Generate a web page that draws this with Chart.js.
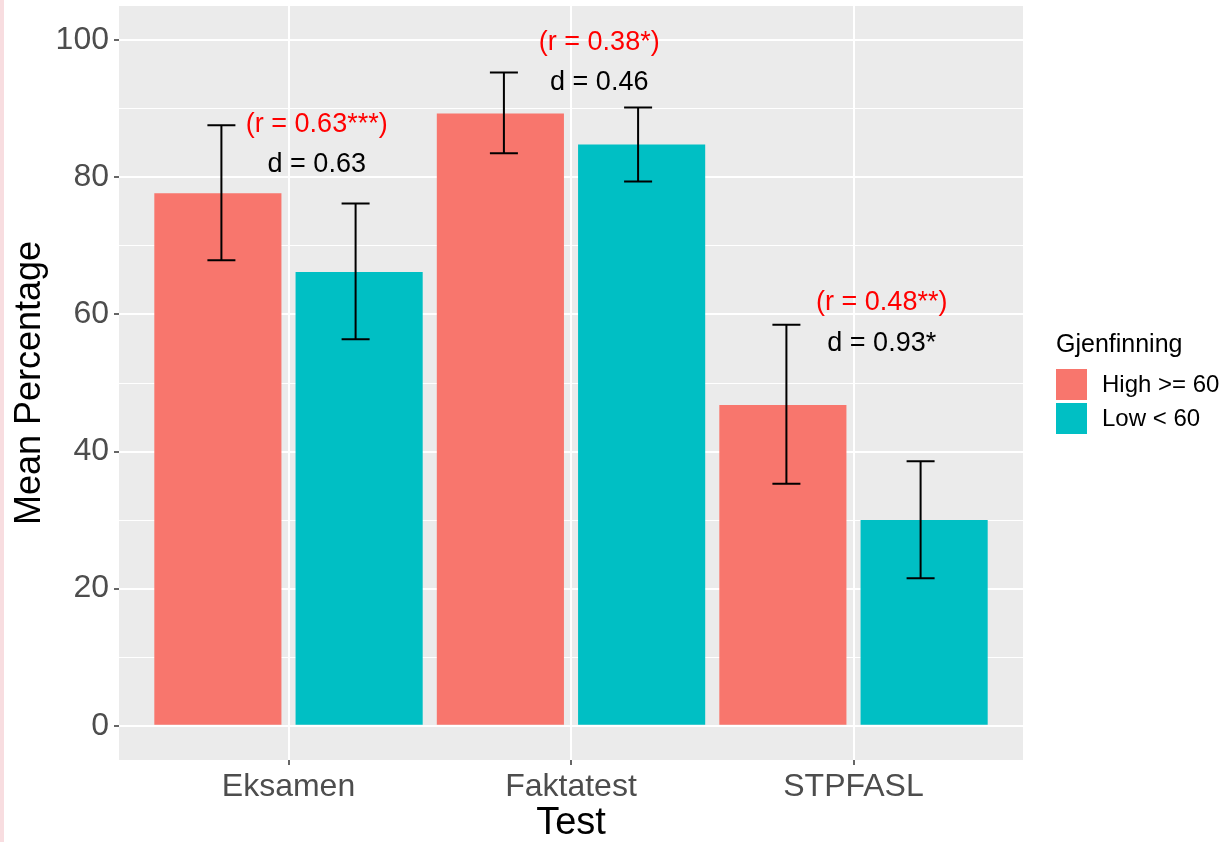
<!DOCTYPE html>
<html>
<head>
<meta charset="utf-8">
<script src="https://cdn.jsdelivr.net/npm/chart.js@4/dist/chart.umd.min.js"></script>
<style>
    html, body { margin: 0; padding: 0; background: #fff; }
    #wrap { position: relative; width: 1230px; height: 842px; }
    #stripe { position: absolute; left: 0; top: 0; width: 4px; height: 842px; background: #f8dde0; }
</style>
</head>
<body>
<div id="wrap">
    <canvas id="chart"></canvas>
    <div id="stripe"></div>
</div>
<script>
// categories and series
const categories = ['Eksamen', 'Faktatest', 'STPFASL'];
const groups = ['High >= 60', 'Low < 60'];
const highMean = [77.7, 89.3, 46.8];
const lowMean = [66.2, 84.8, 30.0];
const highLower = [67.9, 83.5, 35.3];
const highUpper = [87.6, 95.3, 58.5];
const lowLower = [56.4, 79.4, 21.5];
const lowUpper = [76.2, 90.2, 38.6];

// annotation texts and their heights (data units)
const rLabels = ['(r = 0.63***)', '(r = 0.38*)', '(r = 0.48**)'];
const rLabelY = [87.7, 99.6, 61.7];
const dLabels = ['d = 0.63', 'd = 0.46', 'd = 0.93*'];
const dLabelY = [81.8, 93.8, 55.8];

// axis ticks
const yMajorTicks = [0, 20, 40, 60, 80, 100];
const yMinorTicks = [10, 30, 50, 70, 90];

const FONT = '"Liberation Sans", Arial, Helvetica, sans-serif';
const colors = ['#F8766D', '#00BFC4'];
const DODGE = 0.95;       // error bars dodge width
const LABEL_SHIFT = 0.1;  // annotations shift to the right of category

// 그래프 배경 / 오차막대 / 주석 / 범례
const ggPlugin = {
    id: 'ggExtras',
    beforeDraw(chart) {
        const { ctx, chartArea: a } = chart;
        ctx.save();
        ctx.fillStyle = '#EBEBEB';
        ctx.fillRect(a.left, a.top, a.right - a.left, a.bottom - a.top);
        ctx.restore();
    },
    afterDatasetsDraw(chart) {
        const { ctx } = chart;
        const xs = chart.scales.x;
        const ys = chart.scales.y;
        const lows = [highLower, lowLower];
        const ups = [highUpper, lowUpper];

        ctx.save();
        ctx.strokeStyle = '#000';
        ctx.lineWidth = 2;
        const capHalf = 14;
        [0, 1].forEach(g => {
            categories.forEach((c, i) => {
                const x = xs.getPixelForValue(i + 1 + (g === 0 ? -1 : 1) * DODGE / 4);
                const yTop = ys.getPixelForValue(ups[g][i]);
                const yBot = ys.getPixelForValue(lows[g][i]);
                ctx.beginPath();
                ctx.moveTo(x, yTop); ctx.lineTo(x, yBot);
                ctx.moveTo(x - capHalf, yTop); ctx.lineTo(x + capHalf, yTop);
                ctx.moveTo(x - capHalf, yBot); ctx.lineTo(x + capHalf, yBot);
                ctx.stroke();
            });
        });

        ctx.font = '27px ' + FONT;
        ctx.textAlign = 'center';
        ctx.textBaseline = 'middle';
        categories.forEach((c, i) => {
            const x = xs.getPixelForValue(i + 1 + LABEL_SHIFT);
            ctx.fillStyle = '#FF0000';
            ctx.fillText(rLabels[i], x, ys.getPixelForValue(rLabelY[i]));
            ctx.fillStyle = '#000000';
            ctx.fillText(dLabels[i], x, ys.getPixelForValue(dLabelY[i]));
        });

        // legend
        const lx = chart.chartArea.right + 33;
        ctx.textAlign = 'left';
        ctx.fillStyle = '#000';
        ctx.font = '25px ' + FONT;
        ctx.fillText('Gjenfinning', lx, 345);
        ctx.font = '24px ' + FONT;
        chart.data.datasets.forEach((ds, k) => {
            const top = 369 + k * 34;
            ctx.fillStyle = ds.backgroundColor;
            ctx.fillRect(lx, top, 31, 31);
            ctx.fillStyle = '#000';
            ctx.fillText(ds.label, lx + 46, top + 16);
        });
        ctx.restore();
    }
};

const toPoints = arr => arr.map((v, i) => ({ x: i + 1, y: v }));

new Chart(document.getElementById('chart'), {
    type: 'bar',
    data: {
        datasets: [
            { label: groups[0], data: toPoints(highMean), backgroundColor: colors[0] },
            { label: groups[1], data: toPoints(lowMean), backgroundColor: colors[1] }
        ]
    },
    options: {
        responsive: true,
        maintainAspectRatio: false,
        animation: false,
        devicePixelRatio: 1,
        categoryPercentage: 1.0,
        barPercentage: 0.9,
        layout: { padding: { top: 6, right: 207, bottom: 0, left: 0 } },
        plugins: {
            legend: { display: false },
            tooltip: { enabled: false }
        },
        scales: {
            x: {
                type: 'linear',
                min: 0.4,
                max: 3.6,
                offset: false,
                afterBuildTicks: scale => { scale.ticks = categories.map((c, i) => ({ value: i + 1 })); },
                afterFit: scale => {
                    scale.height = 82;
                    scale.paddingLeft = 0;
                    scale.paddingRight = 0;
                },
                ticks: {
                    autoSkip: false,
                    padding: 3,
                    color: '#4D4D4D',
                    font: { family: FONT, size: 32 },
                    callback: v => categories[v - 1]
                },
                grid: {
                    offset: false,
                    color: '#FFFFFF',
                    lineWidth: 2,
                    tickLength: 5,
                    tickColor: '#333333',
                    tickWidth: 1.5
                },
                border: { display: false },
                title: {
                    display: true,
                    text: 'Test',
                    color: '#000',
                    font: { family: FONT, size: 38 },
                    padding: { top: -4, bottom: -4 }
                }
            },
            y: {
                min: -5,
                max: 105,
                afterBuildTicks: scale => {
                    scale.ticks = [...yMajorTicks, ...yMinorTicks].sort((a, b) => a - b).map(v => ({ value: v }));
                },
                afterFit: scale => {
                    scale.width = 119;
                    scale.paddingTop = 0;
                    scale.paddingBottom = 0;
                },
                ticks: {
                    autoSkip: false,
                    padding: 5,
                    color: '#4D4D4D',
                    font: { family: FONT, size: 32 },
                    callback: v => yMajorTicks.includes(v) ? String(v) : ''
                },
                grid: {
                    color: '#FFFFFF',
                    lineWidth: c => yMajorTicks.includes(c.tick.value) ? 2 : 1,
                    tickLength: 5,
                    tickColor: c => yMajorTicks.includes(c.tick.value) ? '#333333' : 'rgba(0,0,0,0)',
                    tickWidth: 1.5
                },
                border: { display: false },
                title: {
                    display: true,
                    text: 'Mean Percentage',
                    color: '#000',
                    font: { family: FONT, size: 36 },
                    padding: { top: 8, bottom: 0 }
                }
            }
        }
    },
    plugins: [ggPlugin]
});
</script>
</body>
</html>
